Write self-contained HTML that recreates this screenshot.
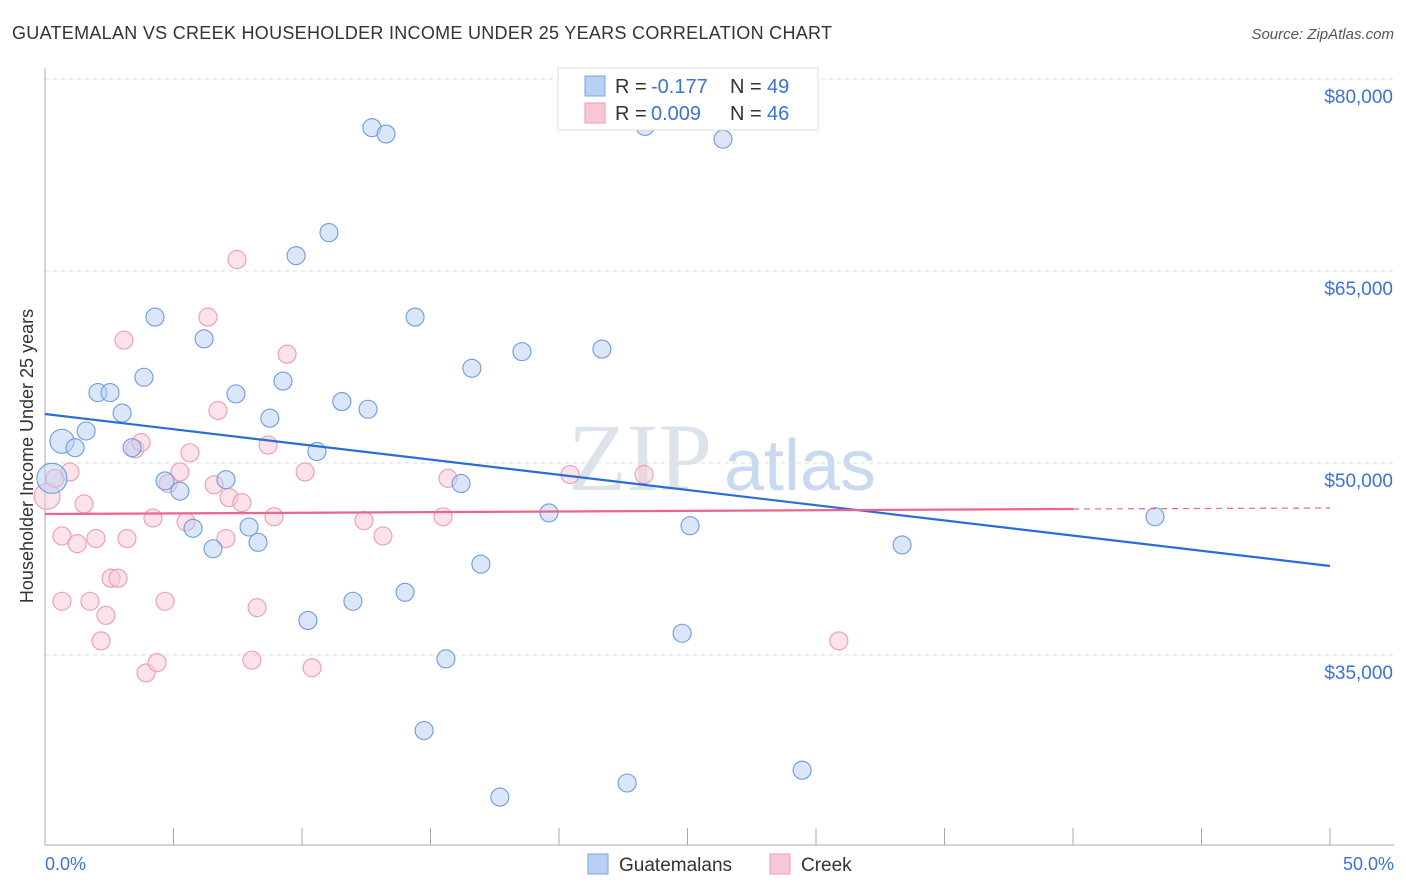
<!DOCTYPE html>
<html><head><meta charset="utf-8"><style>
body{margin:0;background:#fff;font-family:"Liberation Sans",sans-serif;}
svg{display:block}
</style></head><body>
<svg id="chart" width="1406" height="892">
<text x="12" y="39" font-size="18" fill="#333" textLength="820">GUATEMALAN VS CREEK HOUSEHOLDER INCOME UNDER 25 YEARS CORRELATION CHART</text>
<text x="1394" y="39" font-size="15" fill="#555" font-style="italic" text-anchor="end">Source: ZipAtlas.com</text>
<text x="640" y="490" font-size="96" fill="#dde3ea" font-family="Liberation Serif,serif" text-anchor="middle">ZIP</text>
<text x="800" y="490" font-size="72" fill="#c9daf0" text-anchor="middle">atlas</text>
<g id="grid"></g>
<line x1="45" y1="68" x2="45" y2="845" stroke="#aaa"/>
<line x1="45" y1="845" x2="1394" y2="845" stroke="#aaa"/>
<g id="xticks"></g>
<text x="33" y="456" font-size="18" fill="#333" text-anchor="middle" transform="rotate(-90 33 456)">Householder Income Under 25 years</text>
<text x="45" y="870" font-size="18" fill="#3b73d4">0.0%</text>
<text x="1394" y="870" font-size="18" fill="#3b73d4" text-anchor="end">50.0%</text>
<g id="pts"></g>
<g id="trends"></g>
<g>
<rect x="558" y="68" width="260" height="62" fill="#fff" stroke="#ddd"/>
<rect x="585" y="76" width="20" height="20" fill="#b7d0f3" stroke="#7aa6e6"/>
<text x="615" y="93" font-size="20" fill="#333">R =</text><text x="651" y="93" font-size="20" fill="#3b73d4">-0.177</text>
<text x="730" y="93" font-size="20" fill="#333">N =</text><text x="767" y="93" font-size="20" fill="#3b73d4">49</text>
<rect x="585" y="103" width="20" height="20" fill="#f9c7d6" stroke="#ee9ab4"/>
<text x="615" y="120" font-size="20" fill="#333">R =</text><text x="651" y="120" font-size="20" fill="#3b73d4">0.009</text>
<text x="730" y="120" font-size="20" fill="#333">N =</text><text x="767" y="120" font-size="20" fill="#3b73d4">46</text>
</g>
<g><rect x="588" y="854" width="20" height="20" fill="#b7d0f3" stroke="#7aa6e6"/><text x="619" y="871" font-size="19" fill="#333">Guatemalans</text></g>
<g><rect x="770" y="854" width="20" height="20" fill="#f9c7d6" stroke="#ee9ab4"/><text x="801" y="871" font-size="19" fill="#333">Creek</text></g>
</svg>
<script>
const yTicks=[80000,65000,50000,35000];
const yTickLabels=["$80,000","$65,000","$50,000","$35,000"];
const xTicks=[0,5,10,15,20,25,30,35,40,45,50];
const blueX=[0.66,0.27,1.17,1.60,2.06,2.53,3.00,3.39,3.85,4.28,4.67,5.25,5.76,6.19,6.54,7.04,7.43,7.94,8.29,8.75,9.26,9.77,10.58,11.05,11.55,11.98,12.57,12.72,13.27,14.01,14.40,14.75,15.60,16.19,16.61,16.96,17.70,18.56,19.61,21.67,22.65,23.35,24.79,25.10,26.38,29.46,33.35,43.19,10.23];
const blueY=[51700,48800,51200,52500,55500,55500,53900,51200,56700,61400,48600,47800,44900,59700,43300,48700,55400,45000,43800,53500,56400,66200,50900,68000,54800,39200,54200,76200,75700,39900,61400,29100,34700,48400,57400,42100,23900,58700,46100,58900,25000,76300,36700,45100,75300,26000,43600,45800,37700];
const pinkX=[0.08,0.39,0.97,0.66,0.66,1.25,1.52,1.75,1.98,2.18,2.37,2.57,2.84,3.07,3.19,3.50,3.74,3.93,4.20,4.36,4.67,4.79,5.25,5.49,5.64,6.34,6.58,6.73,7.04,7.16,7.47,7.66,8.05,8.25,8.68,8.91,9.42,10.12,10.39,12.41,13.15,15.49,15.68,20.43,23.31,30.89];
const pinkY=[47400,48800,49300,39200,44300,43700,46800,39200,44100,36100,38100,41000,41000,59600,44100,51100,51600,33600,45700,34400,39200,48400,49300,45400,50800,61400,48300,54100,44100,47300,65900,46900,34600,38700,51400,45800,58500,49300,34000,45500,44300,45800,48800,49100,49100,36100];
const NS="http://www.w3.org/2000/svg";
const X0=45,X1=1330,Y80=79;
function sx(p){return X0+(p/50)*(X1-X0);}
function sy(v){return Y80+(80000-v)*0.0128;}
function mk(tag,attrs,parent){const e=document.createElementNS(NS,tag);for(const k in attrs)e.setAttribute(k,attrs[k]);parent.appendChild(e);return e;}
const grid=document.getElementById('grid');
yTicks.forEach((v,i)=>{
  const l=mk('line',{x1:45,x2:1394,y1:sy(v),y2:sy(v),stroke:'#ddd','stroke-dasharray':'4 4'},grid);
  
  
  const t=mk('text',{x:1393,y:sy(v)+24,'font-size':19,fill:'#3b73d4','text-anchor':'end'},grid);
  t.textContent=yTickLabels[i];
  
  
});
const xt=document.getElementById('xticks');
xTicks.forEach(p=>{
  const l=mk('line',{x1:sx(p),x2:sx(p),y1:828,y2:845,stroke:'#aaa'},xt);
  
  
});
const pts=document.getElementById('pts');
function series(xs,ys,fill,stroke,name,bigIdx,bigR){
  xs.forEach((x,i)=>{
    const r=(i===bigIdx)?bigR:(name==='blue-point'&&i===0?12:9);
    const c=mk('circle',{cx:sx(x),cy:sy(ys[i]),r:r,fill:fill,'fill-opacity':0.5,stroke:stroke,'stroke-width':1.1},pts);
    
    
  });
}
series(pinkX,pinkY,'#f9c7d6','#ee9ab4','pink-point',0,13);
series(blueX,blueY,'#b7d0f3','#6b9be0','blue-point',1,15);
const tr=document.getElementById('trends');
let l=mk('line',{x1:45,y1:414,x2:1330,y2:566,stroke:'#2a6dd6','stroke-width':2.2},tr);


l=mk('line',{x1:45,y1:514,x2:1073,y2:509,stroke:'#e8668f','stroke-width':2.2},tr);


l=mk('line',{x1:1073,y1:509,x2:1330,y2:508,stroke:'#e8668f','stroke-width':1.2,'stroke-dasharray':'6 5'},tr);


</script>
</body></html>
